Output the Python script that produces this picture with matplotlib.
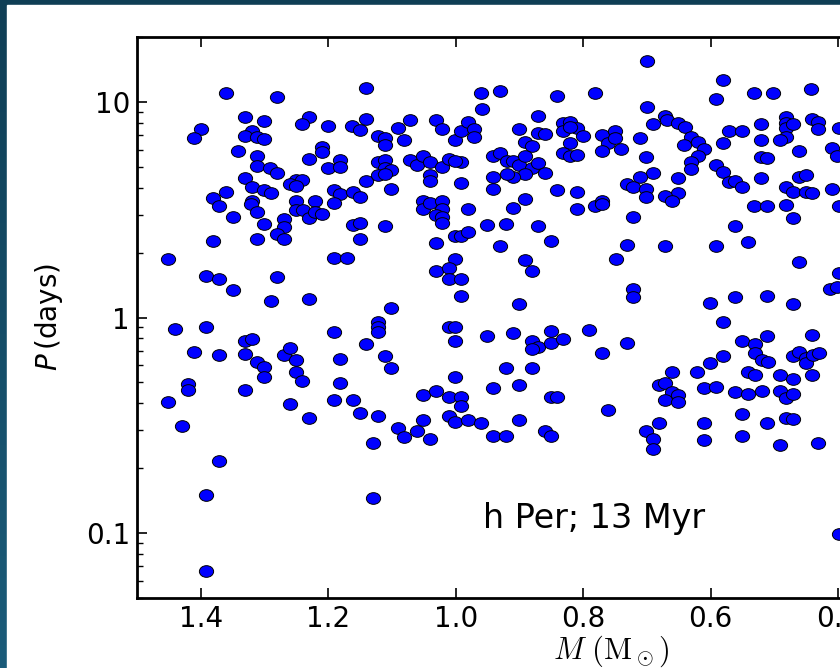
import numpy as np
import matplotlib
matplotlib.use("Agg")
import matplotlib.pyplot as plt
from matplotlib.path import Path
from matplotlib.transforms import Affine2D
from matplotlib.patches import Rectangle
from matplotlib.ticker import FixedLocator, FixedFormatter, LogLocator, NullFormatter

# --- data: stellar mass (Msun) and rotation period (days) ---
mass = [
    1.361, 1.281, 1.141, 0.960, 0.959, 1.400, 1.411, 1.331, 1.300, 1.320,
    1.331, 1.311, 1.300, 1.341, 1.311, 1.311, 1.291, 1.281, 1.331, 1.320,
    1.300, 1.290, 1.361, 1.380, 1.371, 1.320, 1.321, 1.311, 1.350, 1.300,
    1.270, 1.270, 1.281, 1.270, 1.311, 1.380, 1.451, 1.391, 1.371, 1.350,
    1.281, 1.290, 1.230, 1.440, 1.391, 1.230, 1.241, 1.201, 1.162, 1.150,
    1.141, 1.210, 1.210, 1.230, 1.181, 1.201, 1.181, 1.251, 1.241, 1.260,
    1.251, 1.191, 1.181, 1.161, 1.150, 1.141, 1.251, 1.251, 1.239, 1.230,
    1.220, 1.220, 1.210, 1.191, 1.161, 1.150, 1.150, 1.191, 1.171, 1.122,
    1.111, 1.111, 1.091, 1.081, 1.071, 1.031, 1.021, 1.001, 0.991, 0.981,
    0.971, 0.971, 1.122, 1.111, 1.111, 1.101, 1.122, 1.111, 1.101, 1.071,
    1.060, 1.051, 1.040, 1.021, 1.010, 0.991, 1.001, 1.040, 1.040, 0.991,
    1.051, 1.051, 1.040, 1.021, 1.021, 1.031, 1.021, 1.021, 1.111, 1.001,
    0.991, 0.981, 0.981, 1.031, 1.001, 1.031, 1.010, 1.010, 0.991, 0.991,
    1.101, 1.122, 1.122, 1.122, 1.010, 1.001, 1.191,
    1.411, 1.371, 1.331, 1.320, 1.331, 1.311, 1.300, 1.300, 1.270, 1.260,
    1.251, 1.251, 1.241, 1.181, 1.181, 1.141, 1.111, 1.101, 1.451, 1.420,
    1.420, 1.430, 1.331, 1.260, 1.230, 1.191, 1.161, 1.150, 1.122, 1.091,
    1.081, 1.061, 1.051, 1.051, 1.040, 1.031, 1.010, 0.991, 0.991, 1.010,
    1.001, 0.981, 0.960, 1.001, 1.001, 1.130, 1.371, 1.391, 1.130, 1.391,
    0.931, 0.841, 0.782, 0.700, 0.700, 0.581, 0.591, 0.532, 0.502, 0.442,
    0.900, 0.871, 0.871, 0.860, 0.831, 0.821, 0.810, 0.831, 0.821, 0.800,
    0.821, 0.891, 0.881, 0.941, 0.931, 0.920, 0.910, 0.900, 0.891, 0.881,
    0.871, 0.860, 0.891, 0.910, 0.920, 0.941, 0.941, 0.831, 0.821, 0.810,
    0.771, 0.761, 0.750, 0.750, 0.740, 0.771, 0.711, 0.691, 0.671, 0.669,
    0.651, 0.640, 0.631, 0.620, 0.611, 0.641, 0.620, 0.631, 0.631, 0.701,
    0.691, 0.711, 0.731, 0.722, 0.701, 0.701, 0.651, 0.651, 0.671, 0.660,
    0.722, 0.591, 0.581, 0.571, 0.561, 0.551, 0.581, 0.571, 0.551, 0.521,
    0.521, 0.521, 0.511, 0.521, 0.481, 0.481, 0.481, 0.471, 0.481, 0.491,
    0.441, 0.431, 0.431, 0.461, 0.461, 0.450, 0.481, 0.471, 0.450, 0.441,
    0.410, 0.402, 0.410, 0.398, 0.398, 0.841, 0.810, 0.810, 0.891, 0.910,
    0.782, 0.771, 0.771, 0.951, 0.921, 0.871, 0.931, 0.851, 0.891, 0.881,
    0.900, 0.731, 0.671, 0.749, 0.722, 0.722, 0.591, 0.561, 0.541, 0.532,
    0.511, 0.481, 0.471, 0.461, 0.601, 0.561, 0.511, 0.471, 0.581, 0.413,
    0.402, 0.398,
    0.951, 0.910, 0.881, 0.871, 0.881, 0.851, 0.851, 0.831, 0.791, 0.771,
    0.731, 0.921, 0.881, 0.941, 0.900, 0.851, 0.841, 0.941, 0.921, 0.900,
    0.860, 0.851, 0.761, 0.681, 0.671, 0.660, 0.660, 0.651, 0.671, 0.651,
    0.701, 0.691, 0.691, 0.681, 0.621, 0.611, 0.601, 0.591, 0.581, 0.611,
    0.611, 0.551, 0.531, 0.511, 0.531, 0.520, 0.510, 0.541, 0.531, 0.562,
    0.541, 0.520, 0.551, 0.551, 0.511, 0.491, 0.471, 0.491, 0.481, 0.471,
    0.481, 0.471, 0.491, 0.441, 0.471, 0.461, 0.450, 0.450, 0.439, 0.430,
    0.441, 0.431, 0.398,
]
period = [
    11.0, 10.5, 11.6, 11.0, 9.3, 7.49, 6.79, 8.49, 8.19, 7.36,
    6.95, 6.86, 6.71, 5.94, 5.61, 5.06, 4.96, 4.67, 4.45, 4.05,
    3.91, 3.77, 3.80, 3.60, 3.28, 3.46, 3.36, 3.07, 2.92, 2.71,
    2.86, 2.62, 2.44, 2.31, 2.31, 2.27, 1.86, 1.56, 1.51, 1.34,
    1.54, 1.19, 1.22, 0.884, 0.906, 8.49, 7.86, 7.76, 7.76, 7.41,
    8.31, 6.16, 5.88, 5.42, 5.38, 4.96, 5.01, 4.35, 4.35, 4.15,
    4.08, 3.91, 3.73, 3.84, 3.64, 4.29, 3.48, 3.14, 3.14, 2.89,
    3.48, 3.07, 3.01, 3.40, 2.69, 2.74, 2.31, 1.89, 1.89, 6.95,
    6.79, 6.31, 7.55, 6.63, 8.25, 8.25, 7.47, 6.63, 7.31, 8.10,
    7.49, 6.90, 5.24, 5.38, 4.96, 4.84, 4.57, 4.62, 3.96, 5.38,
    5.10, 5.61, 5.24, 5.01, 5.42, 5.24, 5.34, 4.57, 4.29, 4.19,
    3.46, 3.20, 3.40, 3.46, 3.20, 2.99, 2.94, 2.74, 2.65, 2.40,
    2.40, 2.50, 3.20, 2.21, 1.86, 1.65, 1.69, 1.51, 1.51, 1.26,
    1.11, 0.953, 0.906, 0.854, 0.906, 0.899, 0.854,
    0.690, 0.673, 0.776, 0.797, 0.675, 0.620, 0.591, 0.531, 0.673, 0.720,
    0.632, 0.556, 0.507, 0.640, 0.498, 0.752, 0.661, 0.585, 0.407, 0.489,
    0.463, 0.315, 0.463, 0.397, 0.341, 0.415, 0.415, 0.359, 0.350, 0.308,
    0.280, 0.297, 0.439, 0.334, 0.272, 0.455, 0.427, 0.427, 0.390, 0.350,
    0.328, 0.334, 0.324, 0.776, 0.531, 0.261, 0.217, 0.150, 0.145, 0.0667,
    11.2, 10.6, 11.0, 15.5, 9.5, 12.6, 10.3, 11.0, 11.0, 11.5,
    7.49, 8.64, 7.16, 7.10, 7.96, 8.03, 7.55, 7.31, 7.68, 6.95,
    6.43, 6.54, 6.25, 5.61, 5.78, 5.31, 5.31, 5.10, 5.61, 4.92,
    5.20, 4.70, 4.62, 4.50, 4.62, 4.50, 3.93, 5.78, 5.61, 5.69,
    7.03, 6.43, 7.36, 6.79, 6.05, 5.94, 6.79, 7.86, 8.60, 8.20,
    7.96, 7.68, 6.86, 6.54, 6.05, 6.31, 5.61, 5.24, 4.87, 5.54,
    4.67, 4.50, 4.15, 4.05, 3.93, 3.64, 4.45, 3.77, 3.67, 3.46,
    2.94, 5.10, 4.75, 4.24, 4.29, 4.05, 6.43, 7.31, 7.31, 7.86,
    6.63, 5.57, 5.48, 4.43, 8.55, 7.96, 7.55, 7.86, 6.90, 6.63,
    8.31, 8.03, 7.47, 5.94, 4.50, 4.57, 4.05, 3.80, 3.84, 3.77,
    6.10, 5.61, 3.96, 7.55, 3.28, 3.91, 3.80, 3.18, 3.53, 3.23,
    3.28, 3.46, 3.36, 2.69, 2.71, 2.65, 2.14, 2.27, 1.85, 1.65,
    1.16, 2.17, 2.14, 1.86, 1.35, 1.24, 2.14, 2.65, 2.25, 3.28,
    3.28, 3.33, 2.89, 1.81, 1.17, 1.24, 1.26, 1.15, 0.953, 1.35,
    1.38, 1.60,
    0.825, 0.845, 0.776, 0.732, 0.712, 0.866, 0.759, 0.797, 0.875, 0.686,
    0.759, 0.581, 0.581, 0.473, 0.486, 0.427, 0.427, 0.283, 0.283, 0.334,
    0.297, 0.283, 0.372, 0.487, 0.498, 0.556, 0.452, 0.437, 0.415, 0.407,
    0.296, 0.272, 0.245, 0.324, 0.556, 0.470, 0.613, 0.475, 0.661, 0.324,
    0.270, 0.776, 0.752, 0.825, 0.682, 0.632, 0.624, 0.556, 0.541, 0.450,
    0.441, 0.455, 0.357, 0.283, 0.324, 0.541, 0.518, 0.457, 0.425, 0.440,
    0.341, 0.338, 0.256, 0.830, 0.661, 0.690, 0.647, 0.613, 0.673, 0.682,
    0.539, 0.261, 0.0986,
]

x_ticks = [1.4, 1.2, 1.0, 0.8, 0.6, 0.4, 0.2]
x_tick_labels = ["1.4", "1.2", "1.0", "0.8", "0.6", "0.4", "0.2"]
y_ticks = [0.1, 1, 10]
y_tick_labels = ["0.1", "1", "10"]
panel_label = "h Per; 13 Myr"

# --- figure: slide-style dark frame with white panel ---
fig = plt.figure(figsize=(8.4, 6.68), dpi=100)
bg = fig.add_axes([0, 0, 1, 1], zorder=-5)
grad = np.linspace(0, 1, 256).reshape(-1, 1)
bg.imshow(grad, aspect="auto", extent=[0, 1, 0, 1], origin="upper",
          cmap=matplotlib.colors.LinearSegmentedColormap.from_list("frame", ["#0f3e55", "#1b5c7a"]))
bg.add_patch(Rectangle((7 / 840, 0), 1, 1 - 5 / 668, color="white", zorder=2))
bg.set_xlim(0, 1)
bg.set_ylim(0, 1)
bg.axis("off")

# axes runs past the right edge of the picture (cropped slide)
ax = fig.add_axes([137 / 840, 70 / 668, 956 / 840, 561 / 668])
ax.set_xlim(1.5, 0.0)
ax.set_yscale("log")
ax.set_ylim(0.05, 20)

ellipse = Path.unit_circle().transformed(Affine2D().scale(1.0, 0.82))
ax.scatter(mass, period, s=105, marker=ellipse, facecolor="#0000ff",
           edgecolor="black", linewidth=0.7, zorder=3, clip_on=True)

ax.xaxis.set_major_locator(FixedLocator(x_ticks))
ax.xaxis.set_major_formatter(FixedFormatter(x_tick_labels))
ax.yaxis.set_major_locator(FixedLocator(y_ticks))
ax.yaxis.set_major_formatter(FixedFormatter(y_tick_labels))
ax.yaxis.set_minor_locator(LogLocator(base=10, subs=np.arange(2, 10)))
ax.yaxis.set_minor_formatter(NullFormatter())

ax.tick_params(which="both", direction="in", top=True, right=True, labelsize=20)
ax.tick_params(which="major", length=7, width=1.2, pad=5)
ax.tick_params(which="minor", length=4, width=1.0)
for sp in ax.spines.values():
    sp.set_linewidth(2)

ax.set_ylabel(r"$P\,$(days)", fontsize=20, labelpad=15)
ax.set_xlabel(r"$M\ (\mathrm{M}_\odot)$", fontsize=22, math_fontfamily="cm", labelpad=0)
ax.xaxis.set_label_coords((611 - 137) / 956, -0.064)

fig.text(594 / 840, (668 - 528) / 668, panel_label, fontsize=24,
         ha="center", va="baseline")

fig.savefig("out.png", dpi=100)
